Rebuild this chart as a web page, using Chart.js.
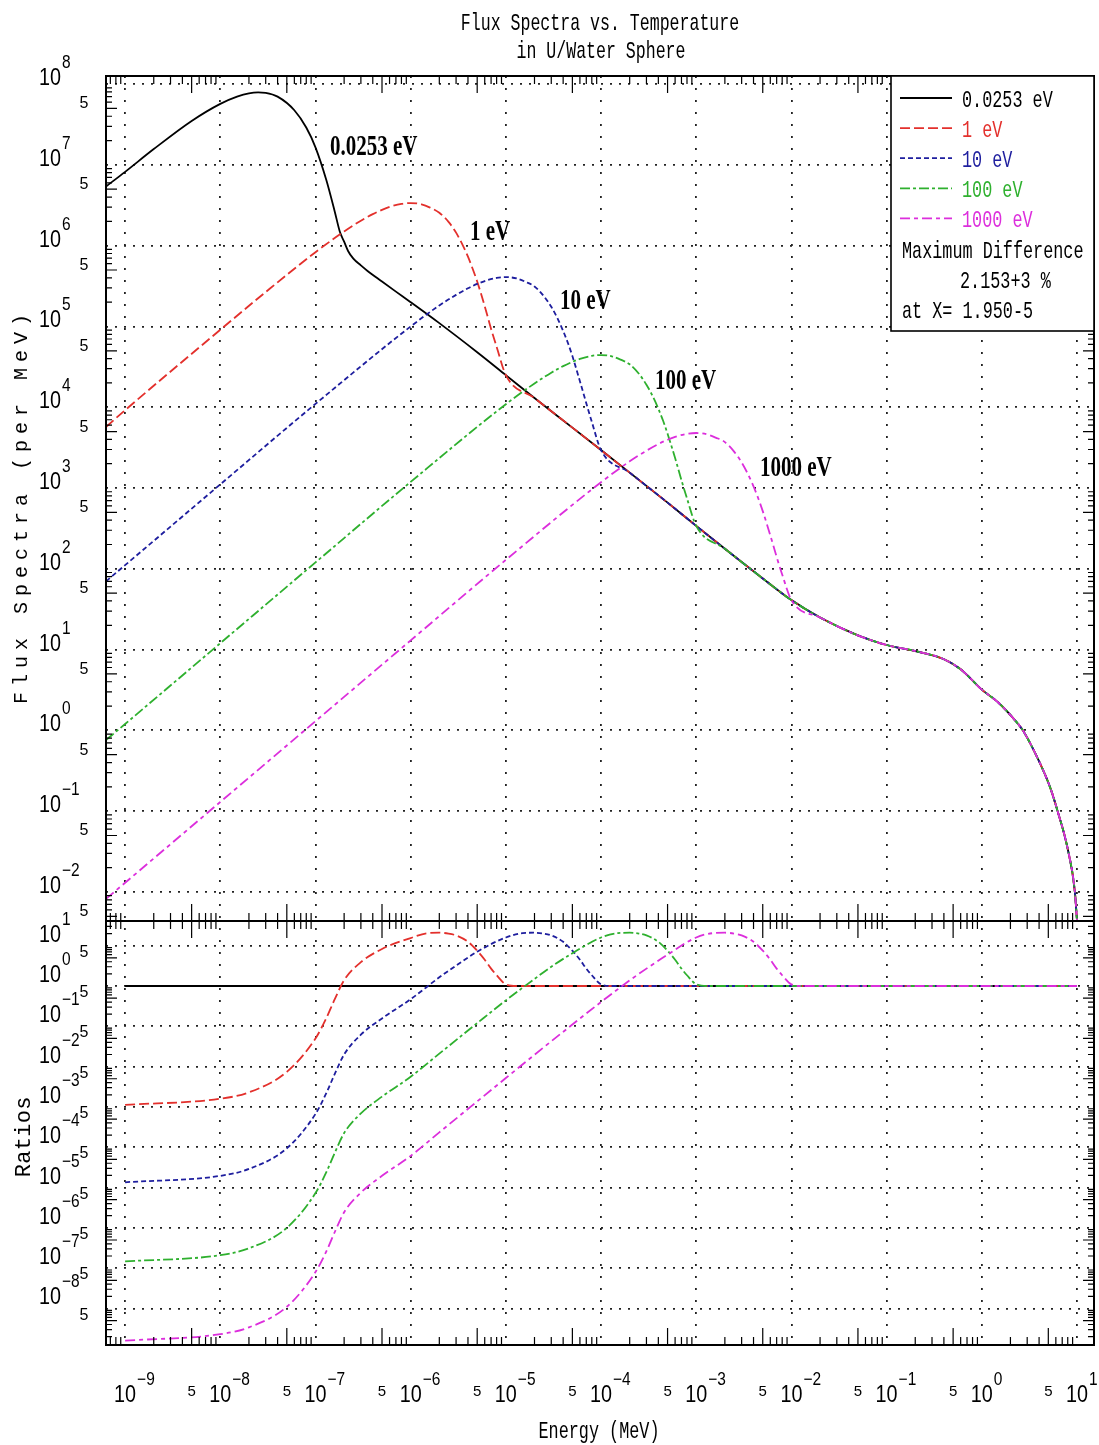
<!DOCTYPE html>
<html>
<head>
<meta charset="utf-8">
<title>Flux Spectra vs. Temperature</title>
<script src="https://cdn.jsdelivr.net/npm/chart.js@4.4.1/dist/chart.umd.min.js"></script>
<style>
  html, body { margin: 0; padding: 0; background: #fff; }
</style>
</head>
<body>
<canvas id="chart" width="1099" height="1445"></canvas>
<script>
// energies in MeV, flux in per MeV
const tailEnergy = [1e-5, 2e-5, 5e-5, 1e-4, 2e-4, 5e-4, 1e-3, 2e-3, 5e-3, 1e-2, 2e-2, 5e-2, 0.1, 0.2, 0.4, 0.6, 1, 1.5, 2.1, 2.7, 3.8, 5.2, 6.2, 8, 9.5, 10];
const tailFlux = [2.5e4, 1.3e4, 5.6e3, 2.95e3, 1.55e3, 660, 340, 177, 76, 41, 25, 15, 11.4, 9.6, 7.6, 5.7, 3.2, 2.2, 1.45, 1.0, 0.47, 0.2, 0.104, 0.034, 0.0101, 0.0045];

const blackEnergy = [6.3e-10, 1e-9, 2e-9, 5e-9, 1e-8, 1.5e-8, 2e-8, 2.5e-8, 3e-8, 4e-8, 6e-8, 8e-8, 1e-7, 1.3e-7, 1.6e-7, 1.8e-7, 2e-7, 2.2e-7, 2.5e-7, 3e-7, 3.5e-7, 5e-7, 7e-7, 1e-6, 2e-6, 5e-6];
const blackFlux = [5.4e6, 8.2e6, 1.57e7, 3.5e7, 5.7e7, 7.0e7, 7.7e7, 7.9e7, 7.8e7, 7.0e7, 4.75e7, 2.9e7, 1.65e7, 6.5e6, 2.6e6, 1.5e6, 1.12e6, 8.6e5, 6.9e5, 5.7e5, 4.9e5, 3.6e5, 2.7e5, 2.0e5, 1.1e5, 4.8e4];

const redEnergy = [6.3e-10, 1e-9, 1e-8, 3e-8, 1e-7, 2e-7, 3e-7, 4e-7, 5e-7, 6e-7, 8e-7, 1e-6, 1.3e-6, 1.6e-6, 2e-6, 2.5e-6, 3e-6, 3.5e-6, 4e-6, 4.5e-6, 5e-6, 6e-6, 7e-6, 8e-6];
const redFlux = [5.7e3, 9.2e3, 9.1e4, 2.67e5, 8.3e5, 1.5e6, 2.04e6, 2.46e6, 2.78e6, 3.02e6, 3.29e6, 3.37e6, 3.25e6, 2.96e6, 2.55e6, 1.97e6, 1.45e6, 1.03e6, 7.3e5, 5.1e5, 3.6e5, 1.78e5, 9.3e4, 5.6e4];

const blueEnergy = [6.3e-10, 1e-9, 1e-8, 1e-7, 1e-6, 2e-6, 3e-6, 4e-6, 5e-6, 6e-6, 8e-6, 1e-5, 1.3e-5, 1.6e-5, 2e-5, 2.5e-5, 3e-5, 3.5e-5, 4e-5, 4.5e-5, 5e-5, 6e-5, 7e-5, 8e-5];
const blueFlux = [70, 111, 1.11e3, 1.1e4, 1.0e5, 1.82e5, 2.46e5, 2.97e5, 3.36e5, 3.65e5, 3.99e5, 4.08e5, 3.93e5, 3.58e5, 3.13e5, 2.38e5, 1.75e5, 1.25e5, 8.8e4, 6.2e4, 4.3e4, 2.1e4, 1.12e4, 6.6e3];

const greenEnergy = [6.3e-10, 1e-9, 1e-8, 1e-7, 1e-6, 1e-5, 2e-5, 3e-5, 4e-5, 5e-5, 6e-5, 8e-5, 1e-4, 1.3e-4, 1.6e-4, 2e-4, 2.5e-4, 3e-4, 3.5e-4, 4e-4, 4.5e-4, 5e-4, 6e-4, 7e-4, 8e-4];
const greenFlux = [0.76, 1.2, 12, 120, 1.19e3, 1.09e4, 1.97e4, 2.68e4, 3.23e4, 3.65e4, 3.96e4, 4.33e4, 4.43e4, 4.27e4, 3.89e4, 3.4e4, 2.6e4, 1.9e4, 1.36e4, 9.6e3, 6.75e3, 4.7e3, 2.35e3, 1.25e3, 743];

const magentaEnergy = [6.3e-10, 1e-9, 1e-8, 1e-7, 1e-6, 1e-5, 1e-4, 2e-4, 3e-4, 4e-4, 5e-4, 6e-4, 8e-4, 1e-3, 1.3e-3, 1.6e-3, 2e-3, 2.5e-3, 3e-3, 3.5e-3, 4e-3, 4.5e-3, 5e-3, 6e-3, 7e-3, 8e-3];
const magentaFlux = [8.2e-3, 0.013, 0.13, 1.3, 13, 129, 1.18e3, 2.14e3, 2.9e3, 3.5e3, 3.96e3, 4.3e3, 4.69e3, 4.8e3, 4.62e3, 4.21e3, 3.7e3, 2.82e3, 2.07e3, 1.48e3, 1.05e3, 737, 518, 260, 140, 85];

// ratios to the 0.0253 eV spectrum
const blackRatioEnergy = [1e-9, 10];
const blackRatio = [1, 1];
const redRatioEnergy = [1e-9, 1e-8, 2e-8, 5e-8, 1e-7, 1.3e-7, 1.6e-7, 2e-7, 3e-7, 5e-7, 1e-6, 1.5e-6, 2e-6, 2.5e-6, 3e-6, 4e-6, 5e-6, 6e-6, 7e-6, 8e-6, 1e-5, 1.3e-5, 10];
const redRatio = [1.12e-3, 1.6e-3, 2.3e-3, 7.4e-3, 0.05, 0.16, 0.48, 1.4, 3.9, 8.3, 15.5, 20.5, 21, 20, 18, 12.5, 7.5, 4.5, 2.7, 1.85, 1.1, 1.0, 1.0];
const blueRatioEnergy = [1e-9, 1e-8, 2e-8, 5e-8, 1e-7, 1.3e-7, 1.6e-7, 2e-7, 3e-7, 5e-7, 1e-6, 2e-6, 3e-6, 5e-6, 1e-5, 1.5e-5, 2e-5, 2.5e-5, 3e-5, 4e-5, 5e-5, 6e-5, 7e-5, 8e-5, 1e-4, 1.3e-4, 10];
const blueRatio = [1.35e-5, 1.95e-5, 2.9e-5, 9.4e-5, 6.7e-4, 2.2e-3, 6.7e-3, 0.02, 0.062, 0.157, 0.47, 1.64, 3.2, 7.1, 16, 20.5, 21, 20, 18, 12.5, 7.5, 4.5, 2.7, 1.85, 1.1, 1.0, 1.0];
const greenRatioEnergy = [1e-9, 1e-8, 2e-8, 5e-8, 1e-7, 1.3e-7, 1.6e-7, 2e-7, 3e-7, 5e-7, 1e-6, 2e-6, 5e-6, 1e-5, 2e-5, 3e-5, 5e-5, 1e-4, 1.5e-4, 2e-4, 2.5e-4, 3e-4, 4e-4, 5e-4, 6e-4, 7e-4, 8e-4, 1e-3, 1.3e-3, 10];
const greenRatio = [1.47e-7, 2.1e-7, 3.1e-7, 1.0e-6, 7.3e-6, 2.4e-5, 7.4e-5, 2.25e-4, 6.9e-4, 1.8e-3, 5.6e-3, 0.021, 0.12, 0.44, 1.5, 3.0, 6.5, 16, 20.5, 21, 20, 18, 12.5, 7.5, 4.5, 2.7, 1.85, 1.1, 1.0, 1.0];
const magentaRatioEnergy = [1e-9, 1e-8, 2e-8, 5e-8, 1e-7, 1.3e-7, 1.6e-7, 2e-7, 3e-7, 5e-7, 1e-6, 2e-6, 5e-6, 1e-5, 2e-5, 5e-5, 1e-4, 2e-4, 3e-4, 5e-4, 1e-3, 1.5e-3, 2e-3, 2.5e-3, 3e-3, 4e-3, 5e-3, 6e-3, 7e-3, 8e-3, 1e-2, 1.3e-2, 10];
const magentaRatio = [1.59e-9, 2.3e-9, 3.4e-9, 1.1e-8, 8e-8, 2.6e-7, 8e-7, 2.44e-6, 7.5e-6, 1.95e-5, 6.1e-5, 2.34e-4, 1.37e-3, 5.2e-3, 0.0197, 0.111, 0.4, 1.38, 2.7, 6.0, 16, 20.5, 21, 20, 18, 12.5, 7.5, 4.5, 2.7, 1.85, 1.1, 1.0, 1.0];

const labels = ["0.0253 eV", "1 eV", "10 eV", "100 eV", "1000 eV"];
const xDecades = [-9, -8, -7, -6, -5, -4, -3, -2, -1, 0, 1];
const fluxDecades = [-2, -1, 0, 1, 2, 3, 4, 5, 6, 7, 8];
const ratioDecades = [-8, -7, -6, -5, -4, -3, -2, -1, 0, 1];

const xMin = 6.3e-10, xMax = 15.1;
const fluxMin = 4.37e-3, fluxMax = 1.26e8;
const ratioMin = 1.24e-9, ratioMax = 41;

const colors = ["#000000", "#e3302c", "#1e1e9e", "#2eb02e", "#dc2edc"];
const dashes = [[], [10, 4], [5, 3], [10, 3, 3, 3], [10, 4, 4, 4]];

const toPoints = (energy, values) => energy.map((e, i) => ({x: e, y: values[i]}));
const withTail = (energy, values) => {
    let pts = toPoints(energy, values);
    let last = energy[energy.length - 1];
    tailEnergy.forEach((e, i) => {
        if (e > last) pts.push({x: e, y: tailFlux[i]});
    });
    return pts;
};

const fluxSets = [
    withTail(blackEnergy, blackFlux),
    withTail(redEnergy, redFlux),
    withTail(blueEnergy, blueFlux),
    withTail(greenEnergy, greenFlux),
    withTail(magentaEnergy, magentaFlux)
];
const ratioSets = [
    toPoints(blackRatioEnergy, blackRatio),
    toPoints(redRatioEnergy, redRatio),
    toPoints(blueRatioEnergy, blueRatio),
    toPoints(greenRatioEnergy, greenRatio),
    toPoints(magentaRatioEnergy, magentaRatio)
];

let datasets = [];
fluxSets.forEach((pts, i) => {
    datasets.push({
        label: labels[i], data: pts, yAxisID: "yFlux", order: 10 - i,
        borderColor: colors[i], borderDash: dashes[i], borderWidth: 1.8,
        pointRadius: 0, cubicInterpolationMode: "monotone", fill: false
    });
});
ratioSets.forEach((pts, i) => {
    datasets.push({
        label: labels[i] + " ratio", data: pts, yAxisID: "yRatio", order: 10 - i,
        borderColor: colors[i], borderDash: dashes[i], borderWidth: 1.8,
        pointRadius: 0, cubicInterpolationMode: "monotone", fill: false
    });
});

const SANS = '"Liberation Sans", Arial, sans-serif';
const MONO = '"Liberation Mono", "DejaVu Sans Mono", monospace';
const SERIF = '"Liberation Serif", "DejaVu Serif", serif';

function squeezed(ctx, s, x, y, font, sx, align, color) {
    ctx.save();
    ctx.font = font;
    ctx.fillStyle = color || "#000";
    ctx.textBaseline = "alphabetic";
    let w = ctx.measureText(s).width * sx;
    let left = align === "center" ? x - w / 2 : (align === "right" ? x - w : x);
    ctx.translate(left, y);
    ctx.scale(sx, 1);
    ctx.textAlign = "left";
    ctx.fillText(s, 0, 0);
    ctx.restore();
    return w;
}

function power(ctx, exp, x, y, align) {
    ctx.save();
    ctx.font = "23px " + SANS;
    let w = ctx.measureText("10").width * 0.86;
    ctx.restore();
    let left = align === "center" ? x - w / 2 : x - w;
    squeezed(ctx, "10", left, y, "23px " + SANS, 0.86, "left");
    squeezed(ctx, String(exp).replace("-", "\u2212"), left + w + 1, y - 17, "18px " + SANS, 0.86, "left");
}

function spacedUp(ctx, s, bx, cy, font, adv) {
    ctx.save();
    ctx.font = font;
    ctx.fillStyle = "#000";
    ctx.translate(bx, cy);
    ctx.rotate(-Math.PI / 2);
    ctx.textAlign = "center";
    let x = -adv * s.length / 2;
    for (const ch of s) {
        ctx.fillText(ch, x + adv / 2, 0);
        x += adv;
    }
    ctx.restore();
}

const framePlugin = {
    id: "frame",
    afterDatasetsDraw(chart) {
        const ctx = chart.ctx;
        const xs = chart.scales.x, yf = chart.scales.yFlux, yr = chart.scales.yRatio;
        const {left: L, right: R, top: T, bottom: B} = chart.chartArea;
        const S = yf.bottom;

        ctx.save();
        ctx.strokeStyle = "#000";
        ctx.lineWidth = 1.2;
        ctx.beginPath();
        for (let d = -10; d <= 1; d++) {
            for (let m = 2; m <= 9; m++) {
                let v = m * Math.pow(10, d);
                if (v < xMin || v > xMax) continue;
                let px = xs.getPixelForValue(v);
                let len = m === 5 ? 17 : 8;
                ctx.moveTo(px, T); ctx.lineTo(px, T + len);
                ctx.moveTo(px, S - len); ctx.lineTo(px, S + len);
                ctx.moveTo(px, B); ctx.lineTo(px, B - len);
            }
        }
        [yf, yr].forEach(sc => {
            for (let d = -10; d <= 8; d++) {
                for (let m = 2; m <= 9; m++) {
                    let py = sc.getPixelForValue(m * Math.pow(10, d));
                    if (py < sc.top || py > sc.bottom) continue;
                    let len = m === 5 ? 11 : 6;
                    ctx.moveTo(L, py); ctx.lineTo(L + len, py);
                    ctx.moveTo(R, py); ctx.lineTo(R - len, py);
                }
            }
        });
        ctx.stroke();

        ctx.lineWidth = 2;
        ctx.strokeRect(L, T, R - L, B - T);
        ctx.beginPath();
        ctx.moveTo(L, S); ctx.lineTo(R, S);
        ctx.stroke();

        // tick labels
        xDecades.forEach(d => power(ctx, d, xs.getPixelForValue(Math.pow(10, d)), B + 57, "center"));
        for (let d = -10; d <= 0; d++) {
            let v = 5 * Math.pow(10, d);
            if (v < xMin || v > xMax) continue;
            squeezed(ctx, "5", xs.getPixelForValue(v), B + 51, "15px " + SANS, 1, "center");
        }
        fluxDecades.forEach(d => power(ctx, d, 61, yf.getPixelForValue(Math.pow(10, d)) + 1, "right"));
        for (let d = -3; d <= 7; d++) {
            let py = yf.getPixelForValue(5 * Math.pow(10, d));
            if (py < yf.top || py > yf.bottom) continue;
            squeezed(ctx, "5", 84, py, "16px " + SANS, 1, "center");
        }
        ratioDecades.forEach(d => power(ctx, d, 61, yr.getPixelForValue(Math.pow(10, d)) - 4, "right"));
        for (let d = -9; d <= 0; d++) {
            let py = yr.getPixelForValue(5 * Math.pow(10, d));
            if (py < yr.top || py > yr.bottom) continue;
            squeezed(ctx, "5", 84, py - 1, "16px " + SANS, 1, "center");
        }

        // titles
        squeezed(ctx, "Flux Spectra vs. Temperature", 600, 30, "24px " + MONO, 0.69, "center");
        squeezed(ctx, "in U/Water Sphere", 601, 58, "24px " + MONO, 0.69, "center");
        squeezed(ctx, "Energy (MeV)", 599, 1438, "24px " + MONO, 0.7, "center");
        spacedUp(ctx, "Flux Spectra (per MeV)", 27, 509, "20px " + MONO, 18);
        spacedUp(ctx, "Ratios", 30, 1137, "22px " + MONO, 13.5);

        // curve annotations
        const annot = [["0.0253 eV", 330, 155], ["1 eV", 470, 240], ["10 eV", 560, 309], ["100 eV", 655, 389], ["1000 eV", 760, 476]];
        annot.forEach(([s, x, y]) => squeezed(ctx, s, x, y, "bold 30px " + SERIF, 0.7, "left"));

        // legend box
        const lx = 891, ly = T, lw = R - 891, lh = 255;
        ctx.fillStyle = "#fff";
        ctx.fillRect(lx, ly, lw, lh);
        ctx.lineWidth = 1.6;
        ctx.strokeRect(lx, ly, lw, lh);
        labels.forEach((s, i) => {
            let by = 107 + 30.1 * i;
            ctx.beginPath();
            ctx.setLineDash(dashes[i]);
            ctx.strokeStyle = colors[i];
            ctx.lineWidth = 1.8;
            ctx.moveTo(900, by - 9);
            ctx.lineTo(952, by - 9);
            ctx.stroke();
            ctx.setLineDash([]);
            squeezed(ctx, s, 962, by, "24px " + MONO, 0.7, "left", colors[i]);
        });
        squeezed(ctx, "Maximum Difference", 902, 258, "24px " + MONO, 0.7, "left");
        squeezed(ctx, "2.153+3 %", 960, 288, "24px " + MONO, 0.7, "left");
        squeezed(ctx, "at X= 1.950-5", 902, 318, "24px " + MONO, 0.7, "left");
        ctx.restore();
    }
};

const decadeTicks = (list) => (scale) => {
    scale.ticks = list.map(d => ({value: Math.pow(10, d)}));
};

new Chart(document.getElementById("chart").getContext("2d"), {
    type: "line",
    data: {datasets: datasets},
    options: {
        responsive: false,
        animation: false,
        devicePixelRatio: 1,
        layout: {padding: {left: 106, right: 5, top: 76, bottom: 100}},
        plugins: {legend: {display: false}, title: {display: false}, tooltip: {enabled: false}},
        scales: {
            x: {
                type: "logarithmic", position: "bottom", min: xMin, max: xMax,
                afterBuildTicks: decadeTicks(xDecades),
                ticks: {display: false},
                grid: {color: "#222", lineWidth: 1.8, drawTicks: false},
                border: {display: false, dash: [2, 10]}
            },
            yRatio: {
                type: "logarithmic", position: "left", stack: "panels", stackWeight: 424,
                min: ratioMin, max: ratioMax,
                afterBuildTicks: decadeTicks(ratioDecades),
                ticks: {display: false},
                grid: {color: "#222", lineWidth: 1.8, drawTicks: false},
                border: {display: false, dash: [2, 7]}
            },
            yFlux: {
                type: "logarithmic", position: "left", stack: "panels", stackWeight: 845,
                min: fluxMin, max: fluxMax,
                afterBuildTicks: decadeTicks(fluxDecades),
                ticks: {display: false},
                grid: {color: "#222", lineWidth: 1.8, drawTicks: false},
                border: {display: false, dash: [2, 7]}
            }
        }
    },
    plugins: [framePlugin]
});
</script>
</body>
</html>
